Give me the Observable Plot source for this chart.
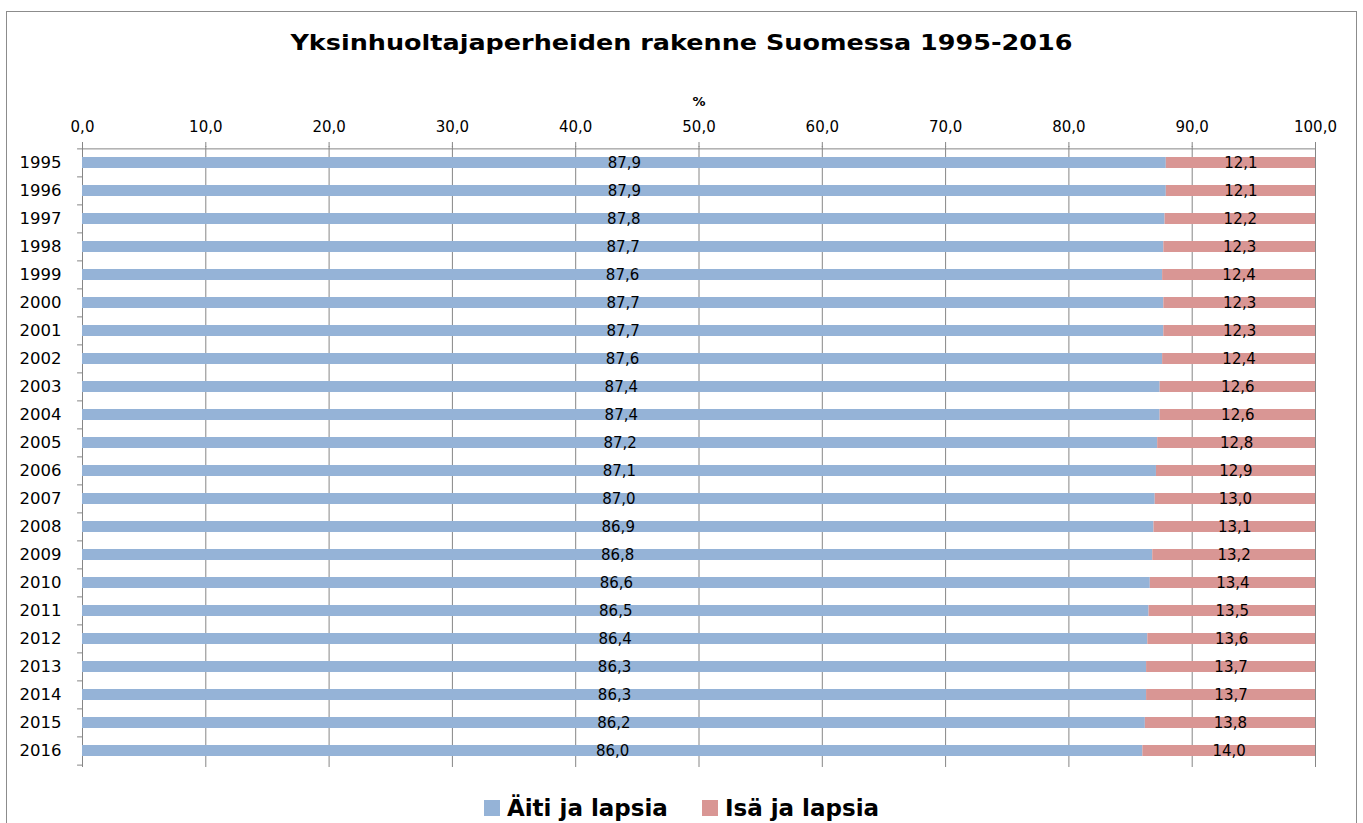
<!DOCTYPE html>
<html>
<head>
<meta charset="utf-8">
<script src="https://cdn.jsdelivr.net/npm/d3@7"></script>
<script src="https://cdn.jsdelivr.net/npm/@observablehq/plot@0.6"></script>
<style>
  html, body { margin: 0; padding: 0; background: #fff; }
  body { width: 1363px; height: 823px; position: relative; overflow: hidden; font-family: "DejaVu Sans", sans-serif; }
  #frame { position: absolute; left: 6px; top: 11px; width: 1349px; height: 900px; border: 1px solid #8c8c8c; box-sizing: content-box; }
  #title { position: absolute; left: 0; width: 1363px; top: 31px; text-align: center; font-weight: bold; font-size: 21px; line-height: 24px; color: #000; }
  #title span { display: inline-block; transform-origin: center; white-space: nowrap; }
  #chart { position: absolute; left: 0; top: 60px; }
  #legend { position: absolute; left: 0; width: 1363px; top: 794px; display: flex; justify-content: center; align-items: baseline; font-weight: bold; font-size: 23px; line-height: 28px; color: #000; }
  .item { display: flex; align-items: baseline; margin: 0 17px; }
  .sw { display: inline-block; width: 16px; height: 16px; margin-right: 7px; }
</style>
</head>
<body>
<div id="frame"></div>
<div id="title"><span>Yksinhuoltajaperheiden rakenne Suomessa 1995-2016</span></div>
<div id="chart"></div>
<div id="legend"></div>
<script>
const years = ["1995","1996","1997","1998","1999","2000","2001","2002","2003","2004","2005","2006","2007","2008","2009","2010","2011","2012","2013","2014","2015","2016"];
const mothers = [87.9,87.9,87.8,87.7,87.6,87.7,87.7,87.6,87.4,87.4,87.2,87.1,87.0,86.9,86.8,86.6,86.5,86.4,86.3,86.3,86.2,86.0];
const fathers = [12.1,12.1,12.2,12.3,12.4,12.3,12.3,12.4,12.6,12.6,12.8,12.9,13.0,13.1,13.2,13.4,13.5,13.6,13.7,13.7,13.8,14.0];
const seriesNames = ["Äiti ja lapsia", "Isä ja lapsia"];
const seriesColors = ["#95B3D7", "#D99694"];
const xTicks = [0,10,20,30,40,50,60,70,80,90,100];
const axisUnit = "%";

const fmt = v => v.toFixed(1).replace(".", ",");

const rows = [];
years.forEach((y, i) => {
  rows.push({year: y, series: seriesNames[0], value: mothers[i]});
  rows.push({year: y, series: seriesNames[1], value: fathers[i]});
});

const W = 1363, H = 722, mT = 86, mB = 15, mL = 82, mR = 48;
const step = (H - mT - mB) / years.length;
const grid = "#868686";

const chart = Plot.plot({
  width: W, height: H,
  marginTop: mT, marginBottom: mB, marginLeft: mL, marginRight: mR,
  style: {fontFamily: "DejaVu Sans, sans-serif", fontSize: "15px", color: "#000", background: "transparent"},
  x: {domain: [0, 100], axis: null},
  y: {domain: years, paddingInner: 0.6, paddingOuter: 0.3, axis: null},
  color: {domain: seriesNames, range: seriesColors},
  marks: [
    Plot.gridX(xTicks, {stroke: grid, strokeOpacity: 1, strokeWidth: 1}),
    Plot.ruleX([0], {stroke: grid, strokeWidth: 1}),
    Plot.ruleY([years[0]], {stroke: grid, strokeWidth: 1, dy: -step / 2}),
    Plot.ruleY(years, {x1: -0.4, x2: 0, stroke: grid, dy: -step / 2}),
    Plot.ruleY([years[years.length - 1]], {x1: -0.4, x2: 0, stroke: grid, dy: step / 2}),
    Plot.axisX({anchor: "top", ticks: xTicks, tickSize: 5, tickPadding: 10, tickFormat: fmt, stroke: grid, fill: "#000", fontSize: 15, label: null}),
    Plot.axisY({anchor: "left", tickSize: 0, tickPadding: 21, fill: "#000", fontSize: 16.5, label: null}),
    Plot.barX(rows, {y: "year", x: "value", fill: "series", order: seriesNames}),
    Plot.text(rows, Plot.stackX({y: "year", x: "value", z: "series", order: seriesNames, text: d => fmt(d.value), dy: 0.5, fontSize: 15, fill: "#000"})),
    Plot.text([axisUnit], {frameAnchor: "top", dy: -50, fontWeight: "bold", fontSize: 13, fill: "#000"})
  ]
});
document.getElementById("chart").appendChild(chart);

// legend
const legend = document.getElementById("legend");
seriesNames.forEach((name, i) => {
  const item = document.createElement("div");
  item.className = "item";
  const sw = document.createElement("span");
  sw.className = "sw";
  sw.style.background = seriesColors[i];
  const t = document.createElement("span");
  t.textContent = name;
  item.appendChild(sw);
  item.appendChild(t);
  legend.appendChild(item);
});

// stretch title to the reference width
const ts = document.querySelector("#title span");
const tw = ts.getBoundingClientRect().width;
ts.style.transform = `scaleX(${782 / tw})`;
</script>
</body>
</html>
